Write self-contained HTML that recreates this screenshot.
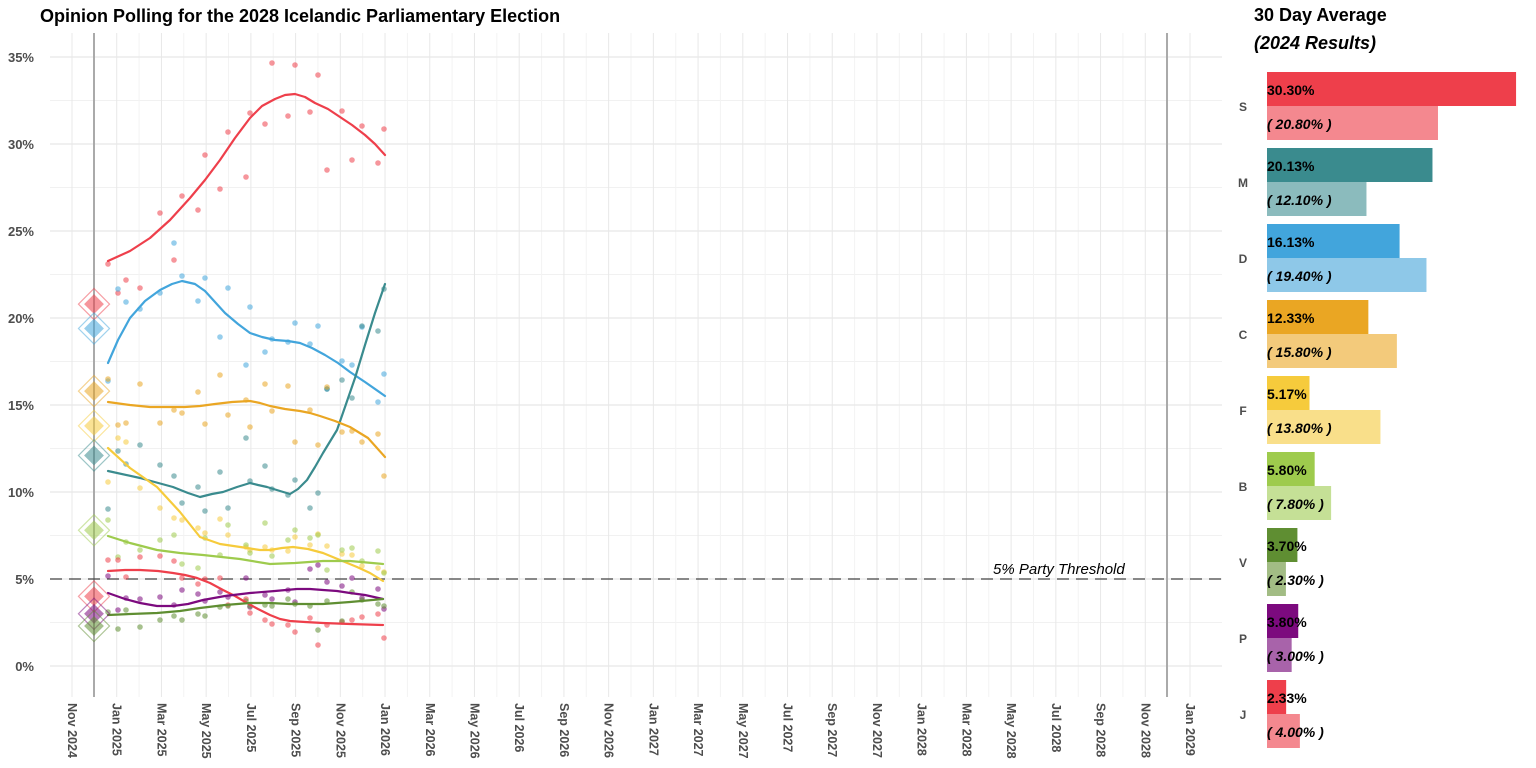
<!DOCTYPE html>
<html><head><meta charset="utf-8"><style>
body{margin:0;background:#fff;}
svg{display:block;font-family:"Liberation Sans",sans-serif;}
</style></head><body>
<svg width="1536" height="768" viewBox="0 0 1536 768" xmlns="http://www.w3.org/2000/svg">
<rect width="1536" height="768" fill="#fff"/>
<text x="40" y="22" font-size="18" font-weight="bold" fill="#000">Opinion Polling for the 2028 Icelandic Parliamentary Election</text>
<g stroke="#f1f1f1" stroke-width="1">
<line x1="50" x2="1222" y1="622.5" y2="622.5"/><line x1="50" x2="1222" y1="535.5" y2="535.5"/><line x1="50" x2="1222" y1="448.5" y2="448.5"/><line x1="50" x2="1222" y1="361.5" y2="361.5"/><line x1="50" x2="1222" y1="274.5" y2="274.5"/><line x1="50" x2="1222" y1="187.5" y2="187.5"/><line x1="50" x2="1222" y1="100.5" y2="100.5"/>
</g>
<g id="vgrid" stroke="#efefef" stroke-width="1"></g>
<g stroke="#e8e8e8" stroke-width="1.3">
<line x1="50" x2="1222" y1="666" y2="666"/><line x1="50" x2="1222" y1="579" y2="579"/><line x1="50" x2="1222" y1="492" y2="492"/><line x1="50" x2="1222" y1="405" y2="405"/><line x1="50" x2="1222" y1="318" y2="318"/><line x1="50" x2="1222" y1="231" y2="231"/><line x1="50" x2="1222" y1="144" y2="144"/><line x1="50" x2="1222" y1="57" y2="57"/>
</g>
<g font-size="13" font-weight="bold" fill="#4d4d4d" text-anchor="end">
<text x="34" y="671">0%</text><text x="34" y="584">5%</text><text x="34" y="497">10%</text><text x="34" y="410">15%</text><text x="34" y="323">20%</text><text x="34" y="236">25%</text><text x="34" y="149">30%</text><text x="34" y="62">35%</text>
</g>
<g id="xlab" font-size="12.5" fill="#4d4d4d" font-weight="bold"></g>
<line x1="94" x2="94" y1="33" y2="697" stroke="#aaa" stroke-width="2"/>
<line x1="1167" x2="1167" y1="33" y2="697" stroke="#aaa" stroke-width="2"/>
<line x1="50" x2="1222" y1="579" y2="579" stroke="#444" stroke-width="1.3" stroke-dasharray="12,7"/>
<text x="993" y="574" font-size="15" font-style="italic" fill="#000">5% Party Threshold</text>
<g id="dots"></g>
<g fill="none" stroke-width="2.2" stroke-linejoin="round" stroke-linecap="round">
<polyline stroke="#EE3F4B" points="108,261 130,251 150,238 170,220 190,198 205,180 220,160 235,138 250,118 262,106 275,99 285,95 295,94 305,97 315,103 328,109 340,117 352,125 365,135 375,144 385,155"/>
<polyline stroke="#42A5DC" points="108,363 118,340 130,318 145,301 160,290 172,284 182,281 195,284 205,291 215,302 225,313 238,324 250,333 262,337 275,340 288,341 300,343 312,348 325,355 338,363 350,372 365,382 385,396"/>
<polyline stroke="#3A8B8E" points="108,471 140,478 173,487 188,493 200,497 212,494 223,492 237,487 250,483 258,485 267,487 280,491 290,494 298,489 307,480 315,467 323,453 337,430 345,407 355,378 365,345 375,313 385,284"/>
<polyline stroke="#EAA623" points="108,402 130,405 150,407 170,407 185,407 200,406 215,404 232,402 250,401 260,403 270,406 285,409 300,411 310,413 320,416 335,421 350,427 368,438 385,457"/>
<polyline stroke="#F6CB3C" points="108,448 130,468 157,487 180,512 200,537 220,544 247,548 260,550 270,550 282,548 293,547 308,549 323,553 340,560 357,567 370,573 383,581"/>
<polyline stroke="#9ECB4D" points="108,536 130,543 157,550 180,553 203,555 240,559 270,564 295,563 323,561 350,561 383,564"/>
<polyline stroke="#EE3F4B" points="108,571 125,570 140,570 158,571 173,573 185,575 197,578 210,583 223,590 235,596 247,603 258,609 270,615 280,619 290,621 305,622 323,623 350,624 383,625"/>
<polyline stroke="#7C0A7E" points="108,593 125,599 140,603 157,606 173,606 188,604 203,600 225,596 250,593 275,591 297,589 310,589 323,590 337,591 350,593 365,595 383,599"/>
<polyline stroke="#5F8E32" points="108,615 130,614 157,613 180,611 200,608 225,605 250,603 270,603 290,604 305,604 323,604 350,602 383,599"/>
</g>
<g id="diam"></g>
<text x="1254" y="21" font-size="18" font-weight="bold" fill="#000">30 Day Average</text>
<text x="1254" y="49" font-size="18" font-weight="bold" font-style="italic" fill="#000">(2024 Results)</text>
<g id="bars"></g>
<script>
const ns="http://www.w3.org/2000/svg";
function el(t,a,p,txt){const e=document.createElementNS(ns,t);for(const k in a)e.setAttribute(k,a[k]);if(txt!==undefined)e.textContent=txt;document.getElementById(p).appendChild(e);return e;}
const mo=["Jan","Mar","May","Jul","Sep","Nov"];
for(let m=-1;m<=50;m++){const x=72+22.36*m;if(x<50||x>1222)continue;el("line",{x1:x,x2:x,y1:33,y2:697,"stroke":m%2==0?"#e8e8e8":"#f3f3f3"},"vgrid");
if(m%2==0){const mi=(10+m)%12;const yr=2024+Math.floor((10+m)/12);const lab=mo[mi/2]+" "+yr;el("text",{x:0,y:0,transform:`translate(${x-4},703) rotate(90)`},"xlab",lab);}}
function Y(p){return 666-17.4*p;}
const dots={
"#EE3F4B":[[108,264],[118,293],[126,280],[140,288],[160,213],[174,260],[182,196],[198,210],[205,155],[220,189],[228,132],[246,177],[250,113],[265,124],[272,63],[288,116],[295,65],[310,112],[318,75],[327,170],[342,111],[352,160],[362,126],[378,163],[384,129]],
"#42A5DC":[[108,381],[118,289],[126,302],[140,309],[160,293],[174,243],[182,276],[198,301],[205,278],[220,337],[228,288],[246,365],[250,307],[265,352],[272,339],[288,342],[295,323],[310,344],[318,326],[327,389],[342,361],[352,365],[362,327],[378,402],[384,374]],
"#3A8B8E":[[108,509],[118,451],[126,464],[140,445],[160,465],[174,476],[182,503],[198,487],[205,511],[220,472],[228,508],[246,438],[250,481],[265,466],[272,489],[288,495],[295,480],[310,508],[318,493],[327,389],[342,380],[352,398],[362,326],[378,331],[384,289]],
"#EAA623":[[108,379],[118,425],[126,423],[140,384],[160,423],[174,410],[182,413],[198,392],[205,424],[220,375],[228,415],[246,400],[250,427],[265,384],[272,411],[288,386],[295,442],[310,410],[318,445],[327,387],[342,432],[352,431],[362,442],[378,434],[384,476]],
"#F6CB3C":[[108,482],[118,438],[126,442],[140,488],[160,508],[174,518],[182,520],[198,528],[205,533],[220,519],[228,535],[246,547],[250,550],[265,547],[272,550],[288,551],[295,537],[310,545],[318,534],[327,546],[342,554],[352,555],[362,566],[378,568],[384,572]],
"#9ECB4D":[[108,520],[118,557],[126,542],[140,550],[160,540],[174,535],[182,564],[198,568],[205,538],[220,555],[228,525],[246,545],[250,553],[265,523],[272,556],[288,540],[295,530],[310,538],[318,535],[327,570],[342,550],[352,548],[362,561],[378,551],[384,573]],
"#EE3F4B ":[[108,560],[118,560],[126,577],[140,557],[160,556],[174,561],[182,578],[198,584],[205,579],[220,578],[228,605],[246,599],[250,613],[265,620],[272,624],[288,625],[295,632],[310,618],[318,645],[327,625],[342,622],[352,620],[362,617],[378,614],[384,638]],
"#7C0A7E":[[108,576],[118,610],[126,598],[140,599],[160,597],[174,605],[182,590],[198,594],[205,601],[220,592],[228,597],[246,578],[250,607],[265,595],[272,599],[288,590],[295,602],[310,569],[318,565],[327,582],[342,586],[352,578],[362,598],[378,589],[384,609]],
"#5F8E32":[[108,612],[118,629],[126,610],[140,627],[160,620],[174,616],[182,620],[198,614],[205,616],[220,607],[228,606],[246,601],[250,606],[265,605],[272,606],[288,599],[295,604],[310,606],[318,630],[327,601],[342,621],[352,592],[362,600],[378,604],[384,606]]};
for(const c in dots){for(const [x,y] of dots[c])el("circle",{cx:x,cy:y,r:2.8,fill:c.trim(),"fill-opacity":0.55},"dots");}
const dm=[["#EE3F4B",20.8],["#42A5DC",19.4],["#EAA623",15.8],["#F6CB3C",13.8],["#3A8B8E",12.1],["#9ECB4D",7.8],["#EE3F4B",4.0],["#7C0A7E",3.0],["#5F8E32",2.3]];
for(const [c,p] of dm){const y=Y(p);el("rect",{x:94-7,y:y-7,width:14,height:14,transform:`rotate(45 94 ${y})`,fill:c,"fill-opacity":0.55},"diam");
el("rect",{x:94-11,y:y-11,width:22,height:22,transform:`rotate(45 94 ${y})`,fill:"none",stroke:c,"stroke-opacity":0.5,"stroke-width":1.2},"diam");}
const bars=[["S",30.30,20.80,"#EE3F4B","#F4888F"],["M",20.13,12.10,"#3A8B8E","#8BBBBD"],["D",16.13,19.40,"#42A5DC","#8EC8E8"],["C",12.33,15.80,"#EAA623","#F3CA7B"],["F",5.17,13.80,"#F6CB3C","#F9DF8A"],["B",5.80,7.80,"#9ECB4D","#C5E096"],["V",3.70,2.30,"#5F8E32","#A2BC84"],["P",3.80,3.00,"#7C0A7E","#A863AA"],["J",2.33,4.00,"#EE3F4B","#F4888F"]];
bars.forEach((b,i)=>{const y=72+76*i;const s=8.22;
el("rect",{x:1267,y:y,width:b[1]*s,height:34,fill:b[3]},"bars");
el("rect",{x:1267,y:y+34,width:b[2]*s,height:34,fill:b[4]},"bars");
el("text",{x:1267,y:y+23,"font-size":14,"font-weight":"bold",fill:"#000"},"bars",b[1].toFixed(2)+"%");
el("text",{x:1267,y:y+57,"font-size":14,"font-weight":"bold","font-style":"italic",fill:"#000"},"bars","( "+b[2].toFixed(2)+"% )");
el("text",{x:1243,y:y+39,"font-size":12,"font-weight":"bold",fill:"#4d4d4d","text-anchor":"middle"},"bars",b[0]);});
</script>
</svg>
</body></html>
